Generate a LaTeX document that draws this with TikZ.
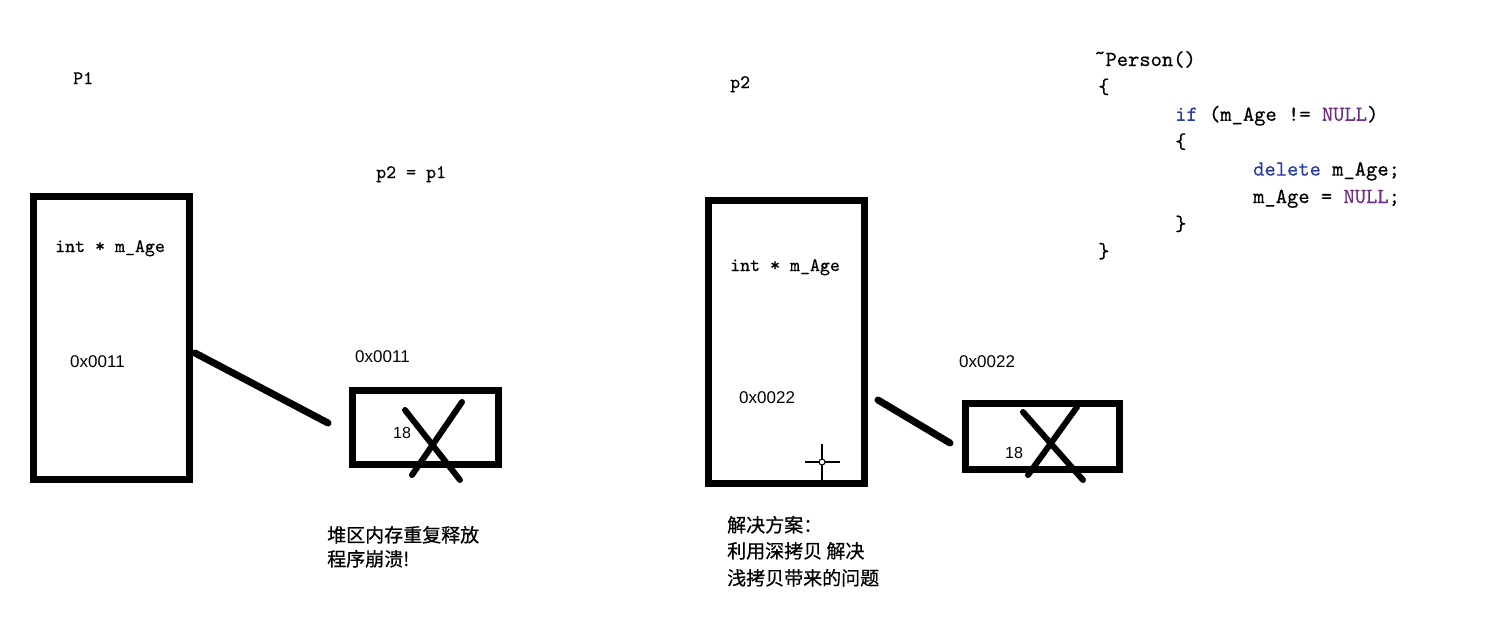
\documentclass[tikz,border=0pt]{standalone}
\usepackage{fontspec}
\setmainfont{Liberation Sans}
\newfontfamily\cjk[FakeBold=0.6]{Noto Sans CJK SC}
\newfontfamily\monob[FakeBold=0.5]{lmmono10-regular.otf}
\definecolor{kwblue}{HTML}{2A3CA8}
\definecolor{macrop}{HTML}{6F2F80}
\tikzset{
  membox/.style={draw=black, line width=7pt, rectangle, inner sep=0pt, fill=white},
  wire/.style={line width=7pt, line cap=round},
  cross/.style={line width=6pt, line cap=round},
  lbl/.style={inner sep=0pt, anchor=base west},
  monolbl/.style={lbl, font=\fontsize{19}{22}\selectfont\monob},
  addr/.style={lbl, font=\fontsize{17}{20}\selectfont},
  codeline/.style={lbl, font=\fontsize{21.5}{26}\selectfont\monob},
  cjktext/.style={lbl, font=\fontsize{19}{26}\selectfont\cjk},
}
\begin{document}
\begin{tikzpicture}[x=1pt,y=-1pt]
\useasboundingbox (0,0) rectangle (1500,625);
\fill[white] (0,0) rectangle (1500,625);

% ---------- left: shallow copy ----------
\node[monolbl] (P1) at (73,84) {P1};
\node[membox, minimum width=156pt, minimum height=283pt] (b1) at (111.5,338) {};
\node[monolbl] (m1) at (55,252) {int * m\_Age};
\node[addr] (a1) at (70,367) {0x0011};
\node[monolbl] (eq) at (376,178) {p2 = p1};

\node[membox, minimum width=146pt, minimum height=74pt] (h1) at (425.5,427.5) {};
\node[addr] (ha1) at (355,362) {0x0011};
\node[lbl, font=\fontsize{16}{19}\selectfont] (v1) at (393,438) {18};
\coordinate (w1s) at (195,353);
\coordinate (w1e) at (328,423);
\draw[wire] (w1s) -- (w1e);
\coordinate (x1a) at (405,410);
\coordinate (x1b) at (460,480);
\coordinate (x1c) at (462,402);
\coordinate (x1d) at (412,475);
\draw[cross] (x1a) -- (x1b);
\draw[cross] (x1c) -- (x1d);

\node[cjktext] (t1) at (327,542) {堆区内存重复释放};
\node[cjktext] (t2) at (327,566) {程序崩溃!};

% ---------- right: deep copy ----------
\node[monolbl] (P2) at (730,88) {p2};
\node[membox, minimum width=156pt, minimum height=283pt] (b2) at (786.5,342) {};
\node[monolbl] (m2) at (730,271) {int * m\_Age};
\node[addr] (a2) at (739,403) {0x0022};

\coordinate (ch) at (822,462);
\coordinate (chl) at (805,462);
\coordinate (chr) at (840,462);
\coordinate (cht) at (822,444);
\coordinate (chb) at (822,480);
\draw[line width=1.2pt] (chl) -- (chr);
\draw[line width=1.2pt] (cht) -- (chb);
\draw[line width=1pt, fill=white] (ch) circle (3pt);

\node[membox, minimum width=154pt, minimum height=66pt] (h2) at (1042.5,436.5) {};
\node[addr] (ha2) at (959,367) {0x0022};
\node[lbl, font=\fontsize{16}{19}\selectfont] (v2) at (1005,458) {18};
\coordinate (w2s) at (878,400);
\coordinate (w2e) at (950,443);
\draw[wire] (w2s) -- (w2e);
\coordinate (x2a) at (1023,412);
\coordinate (x2b) at (1083,480);
\coordinate (x2c) at (1077,407);
\coordinate (x2d) at (1028,475);
\draw[cross] (x2a) -- (x2b);
\draw[cross] (x2c) -- (x2d);

\node[cjktext] (t3) at (727,532) {解决方案：};
\node[cjktext] (t4) at (727,558) {利用深拷贝\ 解决};
\node[cjktext] (t5) at (727,585) {浅拷贝带来的问题};

% ---------- destructor code ----------
\node[codeline] (c1) at (1094,66) {\raisebox{0.3em}{\textasciitilde}Person()};
\node[codeline] (c2) at (1098,93.4) {\{};
\node[codeline] (c3) at (1175,120.8) {\textcolor{kwblue}{if} (m\_Age != \textcolor{macrop}{NULL})};
\node[codeline] (c4) at (1175,148.2) {\{};
\node[codeline] (c5) at (1253,175.6) {\textcolor{kwblue}{delete} m\_Age;};
\node[codeline] (c6) at (1253,203) {m\_Age = \textcolor{macrop}{NULL};};
\node[codeline] (c7) at (1175,230.4) {\}};
\node[codeline] (c8) at (1098,257.8) {\}};
\end{tikzpicture}
\end{document}
